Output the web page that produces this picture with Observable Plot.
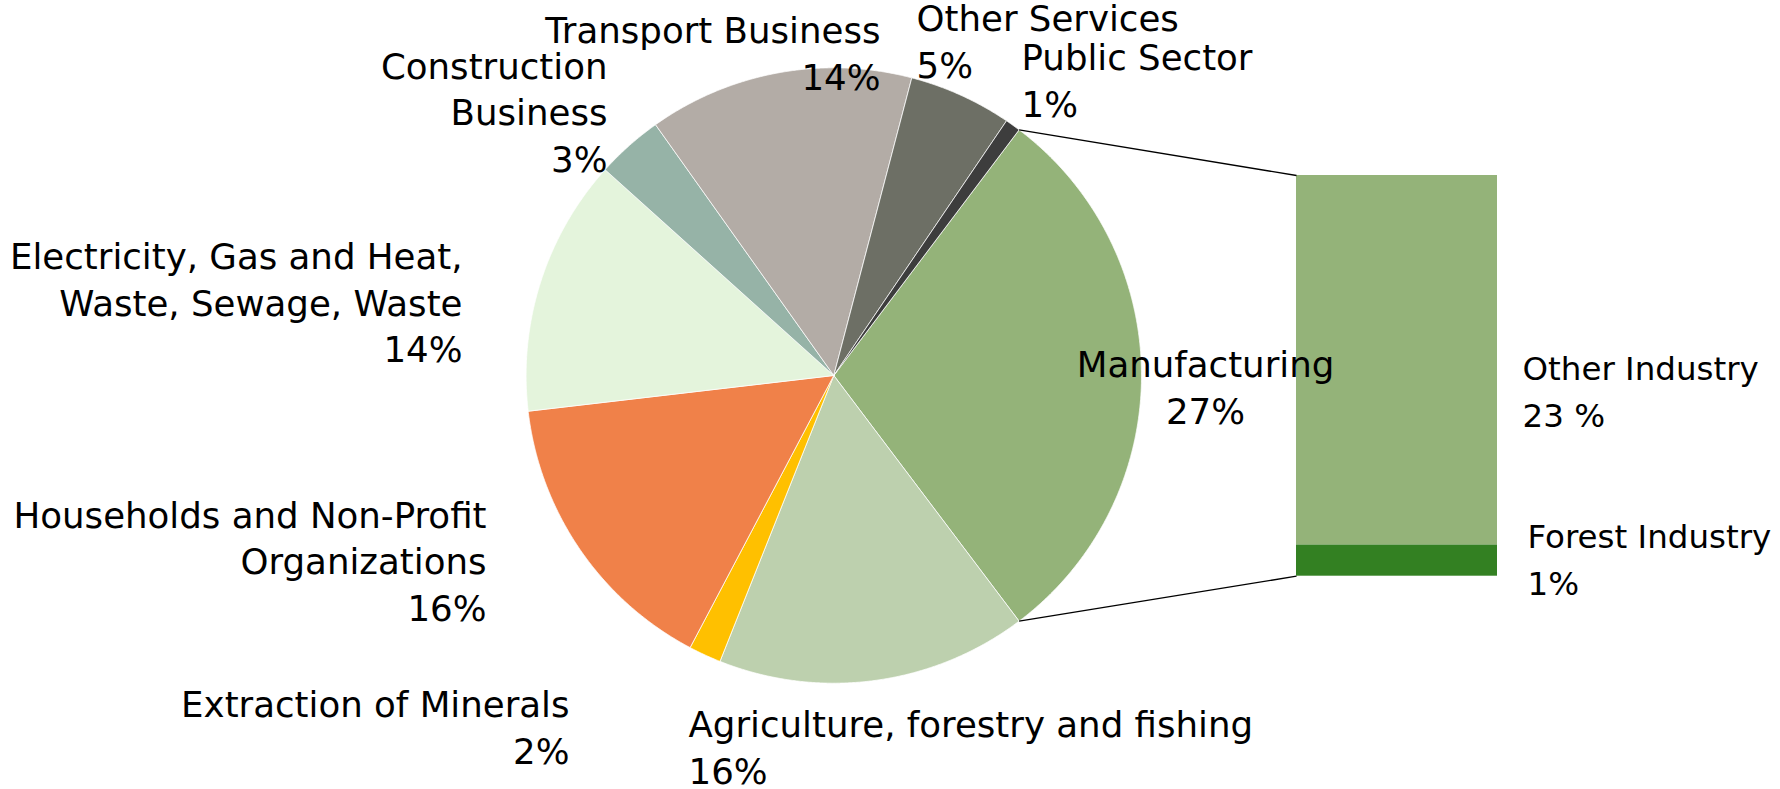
<!DOCTYPE html>
<html>
<head>
<meta charset="utf-8">
<script src="https://cdn.jsdelivr.net/npm/d3@7"></script>
<script src="https://cdn.jsdelivr.net/npm/@observablehq/plot@0.6"></script>
<style>
  html, body { margin: 0; padding: 0; background: #ffffff; }
  #chart svg { display: block; }
</style>
</head>
<body>
<div id="chart"></div>
<script>
// ================= DATA =================
// Pie slices, clockwise starting with the slice that is split into the bar
const categories = [
  "Manufacturing",
  "Agriculture, forestry and fishing",
  "Extraction of Minerals",
  "Households and Non-Profit Organizations",
  "Electricity, Gas and Heat, Waste, Sewage, Waste",
  "Construction Business",
  "Transport Business",
  "Other Services",
  "Public Sector"
];
// slice sizes (share of the pie, %)
const shares = [29.4, 16.3, 1.7, 15.4, 13.5, 3.5, 13.9, 5.4, 0.8];
// the label texts printed in the chart
const percentLabels = ["27%", "16%", "2%", "16%", "14%", "3%", "14%", "5%", "1%"];

// Bar (breakdown of Manufacturing), bottom to top
const barCategories = ["Forest Industry", "Other Industry"];
const barShares = [2.3, 27.1];
const barPercentLabels = ["1%", "23 %"];

// ================= STYLE =================
const pieColors = ["#94b379", "#bdd0ae", "#ffc000", "#f08149", "#e4f4dc", "#96b3a7", "#b3aca6", "#6d6f65", "#3d3d3d"];
const barColors = ["#338022", "#94b379"];
const FONT = "'DejaVu Sans', Verdana, sans-serif";
const FONT_SIZE = 35.6;      // pie labels
const BAR_FONT_SIZE = 32.5;  // bar labels (kept inside the frame)
const LINE_PX = 46.5;        // distance between label lines, px

// ================= LAYOUT =================
const W = 1780, H = 789;
const pieGeom = {cx: 833.3, cy: 375, r: 307.7};
const barGeom = {left: 1296, right: 1497, top: 175, bottom: 575.7};
// wrapped label text (line breaks)
const labelWrap = {
  "Manufacturing": "Manufacturing",
  "Agriculture, forestry and fishing": "Agriculture, forestry and fishing",
  "Extraction of Minerals": "Extraction of Minerals",
  "Households and Non-Profit Organizations": "Households and Non-Profit\nOrganizations",
  "Electricity, Gas and Heat, Waste, Sewage, Waste": "Electricity, Gas and Heat,\nWaste, Sewage, Waste",
  "Construction Business": "Construction\nBusiness",
  "Transport Business": "Transport Business",
  "Other Services": "Other Services",
  "Public Sector": "Public Sector",
  "Forest Industry": "Forest Industry",
  "Other Industry": "Other Industry"
};
// [textAnchor, x, baseline of last line] in pixels
const labelAnchor = {
  "Manufacturing": ["middle", 1205, 423],
  "Agriculture, forestry and fishing": ["start", 688, 783],
  "Extraction of Minerals": ["end", 569, 763],
  "Households and Non-Profit Organizations": ["end", 486, 620],
  "Electricity, Gas and Heat, Waste, Sewage, Waste": ["end", 462, 361.5],
  "Construction Business": ["end", 607, 171],
  "Transport Business": ["end", 880, 89],
  "Other Services": ["start", 916, 77],
  "Public Sector": ["start", 1021, 116],
  "Other Industry": ["start", 1522, 426],
  "Forest Industry": ["start", 1527, 594]
};

// ================= GEOMETRY =================
// One coordinate unit = one percentage point of the bar's stacked scale.
const barTotal = d3.sum(barShares);
const k = (barGeom.bottom - barGeom.top) / barTotal; // pixels per unit
const ux = px => px / k;
const uy = py => (barGeom.bottom - py) / k;

const total = d3.sum(shares);
const startDeg = 90 - (shares[0] / total) * 180; // split slice centred at 3 o'clock
const cxU = ux(pieGeom.cx), cyU = uy(pieGeom.cy), rU = pieGeom.r / k;
const polar = a => ({x: cxU + rU * Math.sin(a), y: cyU + rU * Math.cos(a)});

const slicePoints = [];
const sliceAngles = [];
let acc = 0;
categories.forEach((name, i) => {
  const a0 = (startDeg + acc / total * 360) * Math.PI / 180;
  acc += shares[i];
  const a1 = (startDeg + acc / total * 360) * Math.PI / 180;
  sliceAngles.push([a0, a1]);
  slicePoints.push({name, x: cxU, y: cyU});
  const steps = Math.max(2, Math.ceil((a1 - a0) / (0.25 * Math.PI / 180)));
  for (let s = 0; s <= steps; s++) {
    const p = polar(a0 + (a1 - a0) * s / steps);
    slicePoints.push({name, x: p.x, y: p.y});
  }
  slicePoints.push({name, x: cxU, y: cyU});
});

const barData = barCategories.map((name, i) => ({name, value: barShares[i]}));

// connector lines from the split slice's outer corners to the bar's left corners
const [m0, m1] = sliceAngles[categories.indexOf("Manufacturing")];
const connectors = [
  {from: polar(m0), to: {x: ux(barGeom.left), y: barTotal}},
  {from: polar(m1), to: {x: ux(barGeom.left), y: 0}}
];

// labels
const labels = [];
categories.forEach((name, i) => {
  const [anchor, x, y] = labelAnchor[name];
  labels.push({text: labelWrap[name] + "\n" + percentLabels[i], anchor, x: ux(x), y: uy(y), size: FONT_SIZE});
});
barCategories.forEach((name, i) => {
  const [anchor, x, y] = labelAnchor[name];
  labels.push({text: labelWrap[name] + "\n" + barPercentLabels[i], anchor, x: ux(x), y: uy(y), size: BAR_FONT_SIZE});
});

const textMarks = [];
for (const anchor of ["start", "middle", "end"]) {
  for (const size of [FONT_SIZE, BAR_FONT_SIZE]) {
    const subset = labels.filter(d => d.anchor === anchor && d.size === size);
    if (!subset.length) continue;
    textMarks.push(Plot.text(subset, {
      x: "x", y: "y", text: "text",
      textAnchor: anchor, lineAnchor: "bottom",
      fontFamily: FONT, fontSize: size, lineHeight: LINE_PX / size,
      fill: "#000000"
    }));
  }
}

const chart = Plot.plot({
  width: W,
  height: H,
  margin: 0,
  style: {background: "#ffffff", overflow: "visible"},
  x: {domain: [0, W / k], range: [0, W], axis: null},
  y: {domain: [(barGeom.bottom - H) / k, barGeom.bottom / k], range: [H, 0], axis: null},
  color: {domain: categories.concat(barCategories), range: pieColors.concat(barColors)},
  marks: [
    Plot.line(slicePoints, {x: "x", y: "y", z: "name", fill: "name", stroke: "#ffffff", strokeWidth: 0.75, strokeLinejoin: "miter"}),
    Plot.rectY(barData, {x1: () => ux(barGeom.left), x2: () => ux(barGeom.right), y: "value", fill: "name"}),
    Plot.link(connectors, {x1: d => d.from.x, y1: d => d.from.y, x2: d => d.to.x, y2: d => d.to.y, stroke: "#000000", strokeWidth: 1.3}),
    ...textMarks
  ]
});

document.getElementById("chart").appendChild(chart);
</script>
</body>
</html>
